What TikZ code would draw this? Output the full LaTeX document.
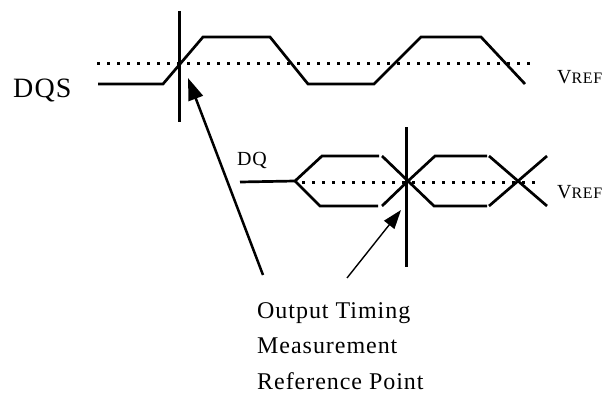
\documentclass[tikz,border=0pt]{standalone}
\usepackage{fontspec}
\setmainfont[LetterSpace=4]{Liberation Serif}
\usetikzlibrary{arrows.meta}
\tikzstyle{wave} = [line width=2.7pt, line join=miter]
\tikzstyle{vref} = [line width=3pt, dash pattern=on 3pt off 7pt]
\tikzstyle{marker} = [line width=3pt]
\tikzstyle{lbl} = [anchor=base west, inner sep=0pt]
\tikzstyle{arrow} = [-{Triangle[length=22pt,width=15pt]}]

\begin{document}
\begin{tikzpicture}[x=1pt,y=-1pt]
\useasboundingbox (0,0) rectangle (610,396);

% labels
\node (dqs) [lbl, font=\fontsize{28}{28}\selectfont] at (13,97) {DQS};
\node (dq) [lbl, font=\fontsize{20}{20}\selectfont] at (237,165) {DQ};
\node (vref1) [lbl, font=\fontsize{20}{20}\selectfont] at (557,83) {V{\fontsize{16}{16}\selectfont REF}};
\node (vref2) [lbl, font=\fontsize{20}{20}\selectfont] at (557,198) {V{\fontsize{16}{16}\selectfont REF}};
\node (note) [anchor=north west, inner sep=0pt, align=left, font=\fontsize{24}{35.5}\selectfont] at (257,302)
  {Output Timing\\Measurement\\Reference Point};

% DQS
\draw [vref] (97,64) -- (533,64);
\draw [wave] (98,84) -- (163,84) -- (203,37) -- (270,37) -- (308,84) -- (374,84) -- (421,37) -- (481,37) -- (525,84);
\draw [marker] (179,11) -- (179,122);

% DQ
\draw [vref] (302,182) -- (540,182);
\draw [wave] (240,182) -- (295,181) -- (322,156) -- (379,156);
\draw [wave] (295,181) -- (320,206) -- (378,206);
\draw [wave] (382,156) -- (408,181) -- (434,206) -- (487,206);
\draw [wave] (382,206) -- (408,181) -- (435,156) -- (487,156);
\draw [wave] (489,156) -- (518,181) -- (547,206);
\draw [wave] (489,206) -- (518,181) -- (547,156);
\draw [marker] (406,127) -- (406,267);

% pointers
\coordinate (tail1) at (263,275);
\coordinate (tip1) at (188,78);
\coordinate (tail2) at (347,278);
\coordinate (tip2) at (401,210);
\draw [arrow, line width=2.5pt] (tail1) -- (tip1);
\draw [-{Triangle[length=19pt,width=13pt]}, line width=1.4pt] (tail2) -- (tip2);

\end{tikzpicture}
\end{document}
